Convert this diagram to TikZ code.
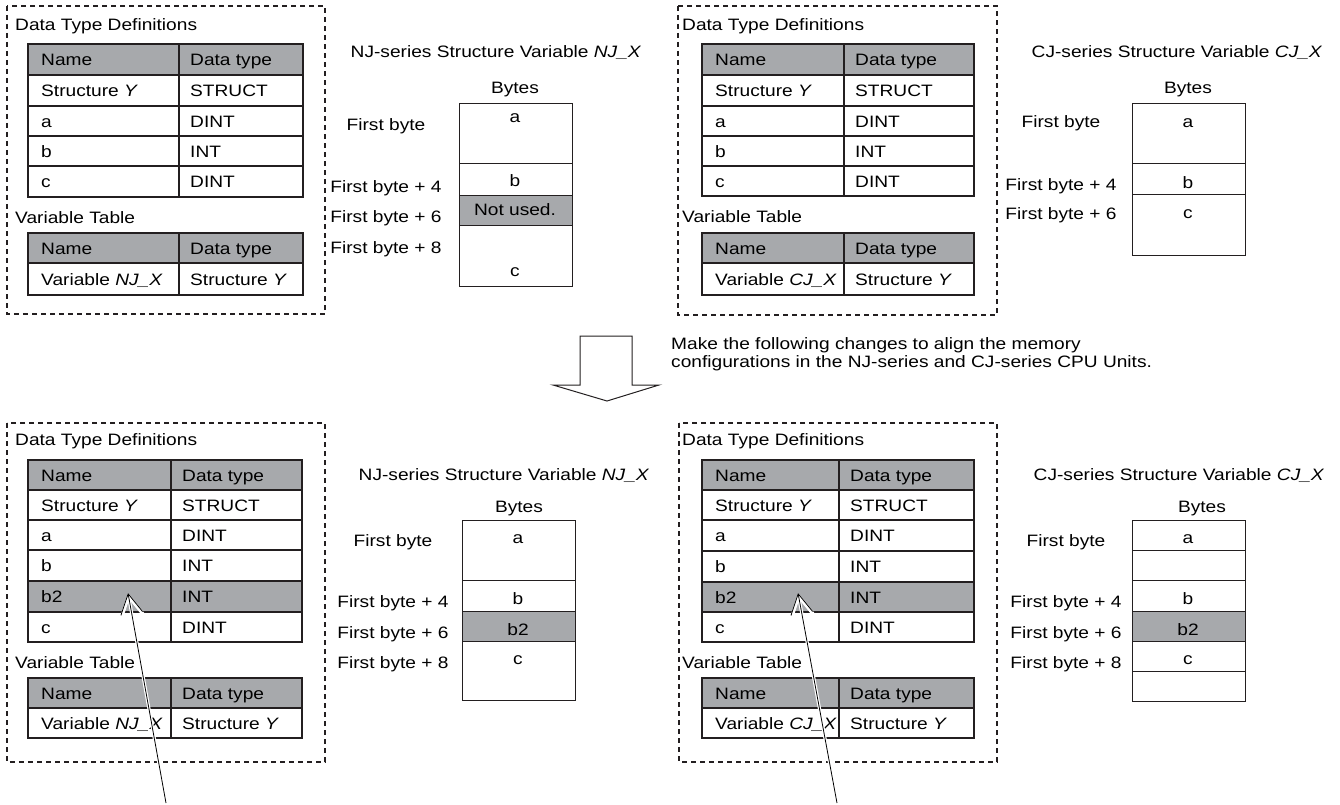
\documentclass[tikz,border=0pt]{standalone}
\usepackage{fontspec}
\setmainfont{Liberation Sans}[FakeStretch=1.16]
\usetikzlibrary{arrows.meta}
\definecolor{cellgray}{RGB}{167,169,172}
\definecolor{tline}{RGB}{35,31,32}
\tikzset{
  txt/.style={font=\fontsize{16.5}{20}\selectfont, inner sep=0pt, text height=11.8pt, text depth=0pt},
  tcell/.style={draw=tline, line width=2.2pt},
  panel/.style={draw=tline, line width=2pt, dash pattern=on 5pt off 4pt},
  bcell/.style={draw=tline, line width=1pt},
  halo/.style={draw=white, line width=3.2pt, -{Straight Barb[length=20pt,width=22pt]}},
  pointer/.style={draw=black, line width=0.8pt, -{Straight Barb[length=20pt,width=22pt]}},
}
\newcommand\trow[9]{%
  \path[tcell, fill=#7] (#2,#5) rectangle (#3,#6);
  \path[tcell, fill=#7] (#3,#5) rectangle (#4,#6);
  \node[txt, anchor=west] (#1l) at ({#2+13},{(#5+#6)/2+0.5}) {#8};
  \node[txt, anchor=west] (#1r) at ({#3+11},{(#5+#6)/2+0.5}) {#9};
}
\newcommand\brow[6]{%
  \path[bcell, fill=#6] (#2,#4) rectangle (#3,#5);
  \coordinate (#1) at ({(#2+#3)/2},{(#4+#5)/2});
}
\begin{document}
\begin{tikzpicture}[x=1pt,y=-1pt]
\useasboundingbox (0,0) rectangle (1340,805);

% ================= TOP LEFT PANEL =================
\draw[panel] (7,6) rectangle (325,314);
\node[txt, anchor=west] (tlDT) at (15,25) {Data Type Definitions};
\trow{tlA}{28}{179}{303}{44}{75}{cellgray}{Name}{Data type}
\trow{tlB}{28}{179}{303}{75}{106}{white}{Structure \textit{Y}}{STRUCT}
\trow{tlC}{28}{179}{303}{106}{136}{white}{a}{DINT}
\trow{tlD}{28}{179}{303}{136}{166}{white}{b}{INT}
\trow{tlE}{28}{179}{303}{166}{197}{white}{c}{DINT}
\node[txt, anchor=west] (tlVT) at (15,218) {Variable Table};
\trow{tlF}{28}{179}{303}{233}{263}{cellgray}{Name}{Data type}
\trow{tlG}{28}{179}{303}{263}{295}{white}{Variable \textit{NJ\_X}}{Structure \textit{Y}}

% ================= TOP MIDDLE BYTES =================
\node[txt] (tmTitle) at (496,52) {NJ-series Structure Variable \textit{NJ\_X}};
\node[txt] (tmBytes) at (515,88) {Bytes};
\brow{tmR1}{459}{572}{104}{164}{white}
\brow{tmR2}{459}{572}{164}{195}{white}
\brow{tmR3}{459}{572}{195}{225}{cellgray}
\brow{tmR4}{459}{572}{225}{286}{white}
\node[txt] (tmA) at (515,117) {a};
\node[txt] (tmB) at (515,181) {b};
\node[txt] (tmN) at (515,210) {Not used.};
\node[txt] (tmC) at (515,271) {c};
\node[txt] (tmL1) at (386,125) {First byte};
\node[txt] (tmL2) at (386,187) {First byte + 4};
\node[txt] (tmL3) at (386,217) {First byte + 6};
\node[txt] (tmL4) at (386,248) {First byte + 8};

% ================= TOP RIGHT PANEL =================
\draw[panel] (678,6) rectangle (997,315);
\node[txt, anchor=west] (trDT) at (682,25) {Data Type Definitions};
\trow{trA}{702}{844}{974}{44}{75}{cellgray}{Name}{Data type}
\trow{trB}{702}{844}{974}{75}{106}{white}{Structure \textit{Y}}{STRUCT}
\trow{trC}{702}{844}{974}{106}{136}{white}{a}{DINT}
\trow{trD}{702}{844}{974}{136}{166}{white}{b}{INT}
\trow{trE}{702}{844}{974}{166}{196}{white}{c}{DINT}
\node[txt, anchor=west] (trVT) at (682,217) {Variable Table};
\trow{trF}{702}{844}{974}{233}{263}{cellgray}{Name}{Data type}
\trow{trG}{702}{844}{974}{263}{295}{white}{Variable \textit{CJ\_X}}{Structure \textit{Y}}

% ================= TOP RIGHT BYTES =================
\node[txt] (trTitle) at (1177,52) {CJ-series Structure Variable \textit{CJ\_X}};
\node[txt] (trBytes) at (1188,88) {Bytes};
\brow{trR1}{1132}{1245}{104}{164}{white}
\brow{trR2}{1132}{1245}{164}{194}{white}
\brow{trR3}{1132}{1245}{194}{255}{white}
\node[txt] (trAa) at (1188,122) {a};
\node[txt] (trBb) at (1188,183) {b};
\node[txt] (trCc) at (1188,213) {c};
\node[txt] (trL1) at (1061,122) {First byte};
\node[txt] (trL2) at (1061,185) {First byte + 4};
\node[txt] (trL3) at (1061,214) {First byte + 6};

% ================= BIG HOLLOW ARROW AND NOTE =================
\draw[draw=tline, line width=1pt, fill=white] (580,336) -- (632,336) -- (632,385) -- (659,385) -- (607,401) -- (553,385) -- (580,385) -- cycle;
\node[txt, anchor=west] (note1) at (671,344) {Make the following changes to align the memory};
\node[txt, anchor=west] (note2) at (671,362) {configurations in the NJ-series and CJ-series CPU Units.};

% ================= BOTTOM LEFT PANEL =================
\draw[panel] (7,423) rectangle (325,762);
\node[txt, anchor=west] (blDT) at (15,440) {Data Type Definitions};
\trow{blA}{28}{171}{302}{460}{490}{cellgray}{Name}{Data type}
\trow{blB}{28}{171}{302}{490}{520}{white}{Structure \textit{Y}}{STRUCT}
\trow{blC}{28}{171}{302}{520}{550}{white}{a}{DINT}
\trow{blD}{28}{171}{302}{550}{581}{white}{b}{INT}
\trow{blE}{28}{171}{302}{581}{612}{cellgray}{b2}{INT}
\trow{blF}{28}{171}{302}{612}{642}{white}{c}{DINT}
\node[txt, anchor=west] (blVT) at (15,663) {Variable Table};
\trow{blG}{28}{171}{302}{678}{708}{cellgray}{Name}{Data type}
\trow{blH}{28}{171}{302}{708}{738}{white}{Variable \textit{NJ\_X}}{Structure \textit{Y}}

% ================= BOTTOM MIDDLE BYTES =================
\node[txt] (bmTitle) at (504,475) {NJ-series Structure Variable \textit{NJ\_X}};
\node[txt] (bmBytes) at (519,507) {Bytes};
\brow{bmR1}{462}{575}{520}{580}{white}
\brow{bmR2}{462}{575}{580}{611}{white}
\brow{bmR3}{462}{575}{611}{641}{cellgray}
\brow{bmR4}{462}{575}{641}{700}{white}
\node[txt] (bmA) at (518,538) {a};
\node[txt] (bmB) at (518,599) {b};
\node[txt] (bmB2) at (518,630) {b2};
\node[txt] (bmC) at (518,659) {c};
\node[txt] (bmL1) at (393,541) {First byte};
\node[txt] (bmL2) at (393,602) {First byte + 4};
\node[txt] (bmL3) at (393,633) {First byte + 6};
\node[txt] (bmL4) at (393,663) {First byte + 8};

% ================= BOTTOM RIGHT PANEL =================
\draw[panel] (679,423) rectangle (997,762);
\node[txt, anchor=west] (brDT) at (682,440) {Data Type Definitions};
\trow{brA}{702}{839}{974}{460}{490}{cellgray}{Name}{Data type}
\trow{brB}{702}{839}{974}{490}{520}{white}{Structure \textit{Y}}{STRUCT}
\trow{brC}{702}{839}{974}{520}{551}{white}{a}{DINT}
\trow{brD}{702}{839}{974}{551}{582}{white}{b}{INT}
\trow{brE}{702}{839}{974}{582}{612}{cellgray}{b2}{INT}
\trow{brF}{702}{839}{974}{612}{642}{white}{c}{DINT}
\node[txt, anchor=west] (brVT) at (682,663) {Variable Table};
\trow{brG}{702}{839}{974}{678}{708}{cellgray}{Name}{Data type}
\trow{brH}{702}{839}{974}{708}{738}{white}{Variable \textit{CJ\_X}}{Structure \textit{Y}}

% ================= BOTTOM RIGHT BYTES =================
\node[txt] (brTitle) at (1179,475) {CJ-series Structure Variable \textit{CJ\_X}};
\node[txt] (brBytes) at (1202,507) {Bytes};
\brow{brR1}{1132}{1245}{520}{550}{white}
\brow{brR2}{1132}{1245}{550}{580}{white}
\brow{brR3}{1132}{1245}{580}{611}{white}
\brow{brR4}{1132}{1245}{611}{641}{cellgray}
\brow{brR5}{1132}{1245}{641}{671}{white}
\brow{brR6}{1132}{1245}{671}{701}{white}
\node[txt] (brAa) at (1188,538) {a};
\node[txt] (brBb) at (1188,599) {b};
\node[txt] (brB2) at (1188,630) {b2};
\node[txt] (brCc) at (1188,659) {c};
\node[txt] (brL1) at (1066,541) {First byte};
\node[txt] (brL2) at (1066,602) {First byte + 4};
\node[txt] (brL3) at (1066,633) {First byte + 6};
\node[txt] (brL4) at (1066,663) {First byte + 8};

% ================= POINTER ARROWS =================
\coordinate (p1s) at (166,803);
\coordinate (p1t) at (128,593);
\coordinate (p2s) at (837,803);
\coordinate (p2t) at (798,593);
\draw[halo] (p1s) -- (p1t);
\draw[pointer] (p1s) -- (p1t);
\draw[halo] (p2s) -- (p2t);
\draw[pointer] (p2s) -- (p2t);
\end{tikzpicture}
\end{document}
